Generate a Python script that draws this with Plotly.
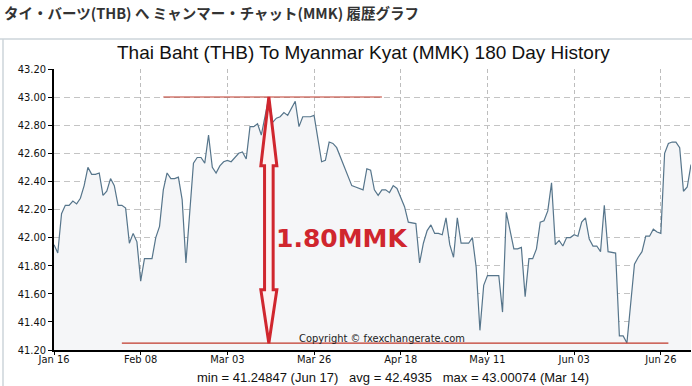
import plotly.graph_objects as go
from datetime import date, timedelta

# ---------------- data ----------------
start = date(2023, 1, 16)
day_offsets = [0, 1, 2, 3, 4, 5, 6, 7, 8, 9, 10, 11, 12, 13, 14, 15, 16, 17, 18, 19,
               20, 21, 22, 23, 24, 26, 27, 28, 29, 30, 31, 32, 33, 34, 35, 37, 38, 39, 40,
               41, 42, 43, 44, 45, 46, 47, 49, 50, 51, 52, 53, 54, 55, 56, 57, 58, 59, 60,
               61, 62, 64, 65, 66, 68, 69, 71, 72, 73, 74, 75, 76, 77, 79, 80, 82, 83, 84,
               85, 86, 87, 88, 89, 90, 91, 92, 93, 94, 96, 97, 98, 99, 100, 101, 102, 103,
               104, 105, 106, 107, 108, 110, 111, 112, 113, 114, 115, 118, 119, 120, 121,
               122, 123, 124, 125, 126, 127, 128, 129, 130, 131, 132, 133, 134, 135, 136,
               137, 138, 139, 140, 141, 142, 143, 144, 145, 146, 147, 149, 150, 151, 152,
               153, 154, 155, 156, 157, 158, 159, 160, 161, 162, 163, 164, 165, 166, 167,
               168, 169]
rates = [41.95, 41.89, 42.17, 42.23, 42.23, 42.26, 42.24, 42.28, 42.37, 42.50, 42.45, 42.45,
         42.46, 42.30, 42.33, 42.42, 42.37, 42.23, 42.23, 42.21,
         41.96, 42.03, 41.97, 41.69, 41.85, 41.85, 42.00, 42.08, 42.34, 42.46, 42.42, 42.42,
         42.43, 42.27, 41.82, 42.53, 42.57, 42.57, 42.53,
         42.73, 42.50, 42.46, 42.51, 42.54, 42.55, 42.54, 42.60, 42.61, 42.56, 42.79, 42.79,
         42.81, 42.73, 42.86, 43.00, 42.82, 42.85, 42.86,
         42.89, 42.87, 42.97, 42.79, 42.86, 42.86, 42.87, 42.54, 42.55, 42.68, 42.67, 42.64,
         42.57, 42.50, 42.37, 42.36, 42.34, 42.49, 42.48,
         42.34, 42.30, 42.34, 42.34, 42.32, 42.37, 42.35, 42.29, 42.22, 42.11, 42.10, 41.82,
         41.96, 42.05, 42.09, 42.03, 42.03, 42.02,
         42.14, 41.95, 41.86, 42.14, 41.96, 41.96, 42.00, 41.79, 41.34, 41.66, 41.73, 41.73,
         41.47, 42.18, 42.05,
         41.92, 41.92, 41.93, 41.58, 41.85, 41.85, 41.92, 42.11, 42.12, 42.19, 42.39, 41.95,
         41.98, 41.94, 42.00,
         42.00, 42.02, 42.01, 42.11, 42.14, 41.99, 41.94, 41.94, 41.90, 42.23, 41.90, 41.89,
         41.30, 41.30, 41.25,
         41.51, 41.81, 41.86, 41.90, 42.01, 42.01, 42.06, 42.04, 42.03, 42.60, 42.67, 42.68,
         42.68, 42.64, 42.33,
         42.36, 42.52]
dates = [(start + timedelta(days=d)).isoformat() for d in day_offsets]

tick_labels = ["Jan 16", "Feb 08", "Mar 03", "Mar 26", "Apr 18", "May 11", "Jun 03", "Jun 26"]
tick_dates = [(start + timedelta(days=23 * i)).isoformat() for i in range(len(tick_labels))]

min_val, min_label, min_date = 41.24847, "Jun 17", date(2023, 6, 17)
avg_val = 42.4935
max_val, max_label, max_date = 43.00074, "Mar 14", date(2023, 3, 14)
diff_label = "1.80MMK"

page_title = "タイ・バーツ(THB) へ ミャンマー・チャット(MMK) 履歴グラフ"
chart_title = "Thai Baht (THB) To Myanmar Kyat (MMK) 180 Day History"
copyright_text = "Copyright © fxexchangerate.com"

# ---------------- layout helpers ----------------
W, H = 692, 386
L, R, T, B = 54, 1, 69, 36
PW, PH = W - L - R, H - T - B


def px(x):
    return (x - L) / PW


def py(y):
    return (H - B - y) / PH


def dd(days):
    return (start + timedelta(days=days)).isoformat()


tick_font = dict(family="DejaVu Sans Condensed, DejaVu Sans, sans-serif", size=11, color="#111")

fig = go.Figure()
fig.add_trace(go.Scatter(
    x=dates, y=rates, mode="lines",
    line=dict(color="#56758b", width=1.2),
    fill="tozeroy", fillcolor="#f5f6f8",
    hoverinfo="skip",
))

red = "#d0262e"
line_red = "#c0392b"
shapes = [
    # page separator and chart frame
    dict(type="line", xref="paper", yref="paper", x0=px(0), x1=px(W), y0=py(39), y1=py(39),
         line=dict(color="#cdd4da", width=1.5)),
    dict(type="line", xref="paper", yref="paper", x0=px(3), x1=px(3), y0=py(39), y1=py(H),
         line=dict(color="#cdd4da", width=1.5)),
    # max / min lines
    dict(type="line", xref="x", yref="y", x0=dd(29.4), x1=dd(87.1), y0=max_val, y1=max_val,
         line=dict(color=line_red, width=1.2), layer="above"),
    dict(type="line", xref="x", yref="y", x0=dd(18.3), x1=dd(163.5), y0=min_val, y1=min_val,
         line=dict(color=line_red, width=1.2), layer="above"),
]
h1, h2 = 0.49, 0.38
arrow_path = (f"M 0,{max_val} L 8,{max_val - h1} L 4.3,{max_val - h1} L 4.3,{min_val + h2} "
              f"L 8,{min_val + h2} L 0,{min_val} L -8,{min_val + h2} L -4.3,{min_val + h2} "
              f"L -4.3,{max_val - h1} L -8,{max_val - h1} Z")
shapes.append(dict(type="path", xref="x", yref="y", xsizemode="pixel", xanchor=max_date.isoformat(),
                   path=arrow_path, line=dict(color=red, width=3), fillcolor="#fdf1f1",
                   layer="above"))

nb = "\u00a0"
stats = (f"min = {min_val} ({min_label}){nb*3}avg = {avg_val}{nb*3}"
         f"max = {max_val} ({max_label})")

annotations = [
    dict(text=f"<b>{page_title}</b>", xref="paper", yref="paper", x=px(2), y=py(13),
         xanchor="left", yanchor="middle", showarrow=False,
         font=dict(family="Noto Sans CJK JP, sans-serif", size=14.5, color="#333")),
    dict(text=chart_title, xref="paper", yref="paper", x=px(363), y=py(53),
         xanchor="center", yanchor="middle", showarrow=False,
         font=dict(family="Liberation Sans, Arial, sans-serif", size=19, color="#111")),
    dict(text=stats, xref="paper", yref="paper", x=px(393), y=py(377),
         xanchor="center", yanchor="middle", showarrow=False,
         font=dict(family="Liberation Sans, Arial, sans-serif", size=13, color="#111")),
    dict(text=copyright_text, xref="paper", yref="paper", x=px(382), y=py(338),
         xanchor="center", yanchor="middle", showarrow=False,
         font=dict(family="DejaVu Sans Condensed, DejaVu Sans, sans-serif", size=11, color="#222")),
    dict(text=f"<b>{diff_label}</b>", xref="paper", yref="paper", x=px(342), y=py(238),
         xanchor="center", yanchor="middle", showarrow=False,
         font=dict(family="DejaVu Sans, sans-serif", size=25, color=red)),
]

fig.update_layout(
    width=W, height=H,
    margin=dict(l=L, r=R, t=T, b=B, pad=0),
    paper_bgcolor="white", plot_bgcolor="white",
    showlegend=False, hovermode=False,
    shapes=shapes, annotations=annotations,
    xaxis=dict(
        type="date", range=[dd(0), dd(169.2)],
        tickvals=tick_dates, ticktext=tick_labels,
        showgrid=True, gridcolor="#bdbdbd", gridwidth=1, griddash="4px,3px",
        showline=True, linecolor="#000", linewidth=1.5,
        ticks="outside", ticklen=3, tickcolor="#000", tickfont=tick_font,
        ticklabelstandoff=-5,
        zeroline=False,
    ),
    yaxis=dict(
        range=[41.2, 43.2], tick0=41.2, dtick=0.2, tickformat=".2f",
        showgrid=True, gridcolor="#c4c4c4", gridwidth=1, griddash="6px,4px",
        showline=True, linecolor="#000", linewidth=1.5,
        ticks="outside", ticklen=4, tickcolor="#000", tickfont=tick_font,
        zeroline=False,
    ),
)

fig.write_html("out.html", config={"displayModeBar": False},
               post_script="document.body.style.margin='0';")
